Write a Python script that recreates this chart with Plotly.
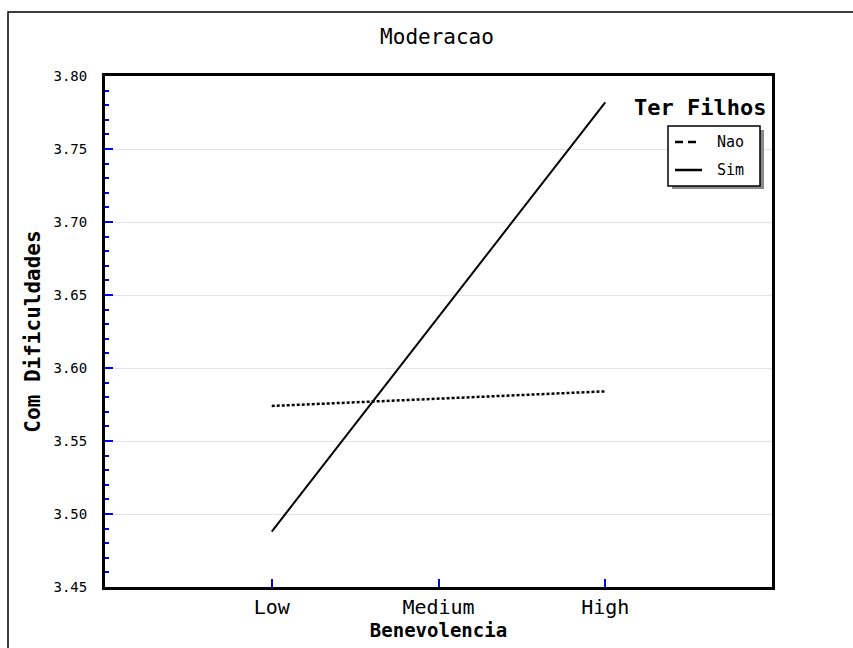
import plotly.graph_objects as go

# Benevolencia levels and predicted "Com Dificuldades" per group of "Ter Filhos"
benevolencia = ["Low", "Medium", "High"]
nao = [3.574, 3.579, 3.584]
sim = [3.488, 3.635, 3.782]

MONO = "DejaVu Sans Mono"

# plot area in pixels (for placing the hand-drawn legend and page frame)
L, R, T, B = 105, 772, 76, 587
W, H = R - L, B - T


def px(x):
    return (x - L) / W


def py(y):
    return (B - y) / H


fig = go.Figure()
fig.add_trace(go.Scatter(
    x=benevolencia, y=nao, mode="lines", name="Nao",
    line=dict(color="black", width=2.5, dash="3px,2px"), showlegend=False,
))
fig.add_trace(go.Scatter(
    x=benevolencia, y=sim, mode="lines", name="Sim",
    line=dict(color="black", width=2), showlegend=False,
))

shapes = [
    # page frame
    dict(type="rect", xref="paper", yref="paper",
         x0=px(8), y0=-0.3, x1=1.3, y1=py(12),
         line=dict(color="black", width=1.5), fillcolor="rgba(0,0,0,0)"),
    # legend shadow and box
    dict(type="rect", xref="paper", yref="paper",
         x0=px(672), y0=py(189), x1=px(764), y1=py(130),
         line=dict(width=0), fillcolor="#8a8a8a", layer="above"),
    dict(type="rect", xref="paper", yref="paper",
         x0=px(668), y0=py(186), x1=px(760), y1=py(126),
         line=dict(color="black", width=1.5), fillcolor="white", layer="above"),
    # legend samples
    dict(type="line", xref="paper", yref="paper",
         x0=px(675), y0=py(142), x1=px(700), y1=py(142),
         line=dict(color="black", width=2.5, dash="8px,5px"), layer="above"),
    dict(type="line", xref="paper", yref="paper",
         x0=px(675), y0=py(170), x1=px(702), y1=py(170),
         line=dict(color="black", width=2.5), layer="above"),
]

annotations = [
    dict(text="<b>Ter Filhos</b>", xref="paper", yref="paper",
         x=px(768), y=py(107), xanchor="right", yanchor="middle",
         showarrow=False, font=dict(family=MONO, size=22, color="black")),
    dict(text="Nao", xref="paper", yref="paper",
         x=px(715), y=py(142), xanchor="left", yanchor="middle",
         showarrow=False, font=dict(family=MONO, size=15, color="black")),
    dict(text="Sim", xref="paper", yref="paper",
         x=px(715), y=py(170), xanchor="left", yanchor="middle",
         showarrow=False, font=dict(family=MONO, size=15, color="black")),
]

fig.update_layout(
    width=853, height=648,
    margin=dict(l=L, r=853 - R, t=T, b=648 - B, pad=0, autoexpand=False),
    paper_bgcolor="white", plot_bgcolor="white",
    showlegend=False,
    title=dict(text="Moderacao", x=px(437), xref="paper", xanchor="center",
               y=1 - 37 / 648, yref="container", yanchor="middle",
               font=dict(family=MONO, size=21, color="black")),
    shapes=shapes,
    annotations=annotations,
)

fig.update_xaxes(
    type="category", range=[-1, 3], automargin=False,
    showline=True, linecolor="black", linewidth=3, mirror=True,
    showgrid=False, zeroline=False,
    ticks="inside", ticklen=8, tickwidth=2, tickcolor="blue",
    ticklabelstandoff=0,
    tickfont=dict(family=MONO, size=20, color="black"),
    title=dict(text="<b>Benevolencia</b>", standoff=1,
               font=dict(family=MONO, size=19, color="black")),
)

fig.update_yaxes(
    range=[3.45, 3.80], dtick=0.05, tickformat=".2f", automargin=False,
    showline=True, linecolor="black", linewidth=3, mirror=True,
    showgrid=True, gridcolor="#e3e3e3", gridwidth=1, zeroline=False,
    ticks="inside", ticklen=8, tickwidth=2, tickcolor="blue",
    minor=dict(dtick=0.01, ticks="inside", ticklen=4, tickwidth=2,
               tickcolor="blue", showgrid=False),
    ticklabelstandoff=12,
    tickfont=dict(family=MONO, size=14, color="black"),
    title=dict(text="<b>Com Dificuldades</b>", standoff=8,
               font=dict(family=MONO, size=21, color="black")),
)

fig.write_html("out.html")
